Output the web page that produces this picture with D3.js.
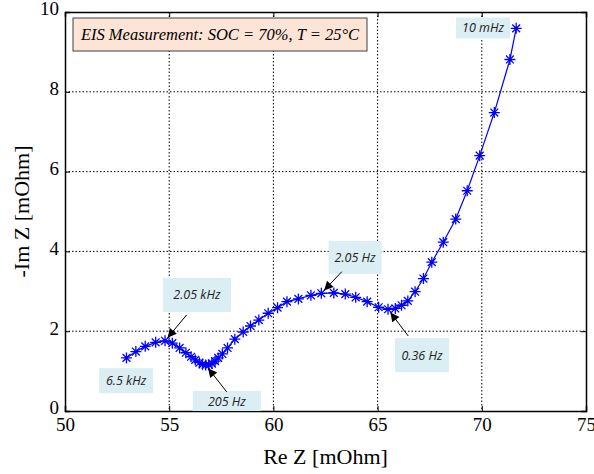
<!DOCTYPE html>
<html><head><meta charset="utf-8">
<script src="https://cdn.jsdelivr.net/npm/d3@7"></script>
<style>body{margin:0;background:#fff}svg{display:block}</style>
</head><body>
<svg id="c" width="594" height="474"></svg>
<script>
const reZ = [52.95,53.4,53.85,54.35,54.8,55.15,55.5,55.8,56.05,56.25,56.45,56.6,56.75,56.9,57.05,57.2,57.35,57.55,57.8,58.15,58.55,58.9,59.3,59.75,60.2,60.65,61.2,61.8,62.3,62.9,63.45,63.95,64.5,65.05,65.5,65.85,66.15,66.45,66.8,67.2,67.6,68.15,68.75,69.3,69.9,70.6,71.35,71.65];
const negImZ = [1.33,1.49,1.62,1.72,1.76,1.70,1.58,1.46,1.36,1.28,1.21,1.17,1.15,1.16,1.19,1.25,1.33,1.43,1.58,1.80,1.98,2.13,2.28,2.45,2.59,2.74,2.81,2.90,2.95,2.96,2.93,2.85,2.74,2.60,2.55,2.57,2.65,2.76,2.99,3.32,3.73,4.23,4.81,5.52,6.40,7.48,8.81,9.59];
const xTicks = [50,55,60,65,70,75];
const yTicks = [0,2,4,6,8,10];
const annoText = ["10 mHz","2.05 kHz","6.5 kHz","205 Hz","2.05 Hz","0.36 Hz"];
const annoX = [70.06,56.33,52.93,57.77,63.92,67.13];   // label centre (Re Z)
const annoY = [9.60,2.91,0.76,0.25,3.85,1.40];         // label centre (-Im Z)
const annoTipIdx = [null,4,null,12,28,34];             // data point the arrow targets
const annoFromX = [null,55.84,null,57.76,63.28,66.47];
const annoFromY = [null,2.41,null,0.48,3.49,1.88];
const legendText = "EIS Measurement: SOC = 70%, T = 25°C";

const svg = d3.select("#c");
const L=65,R=586,T=12,B=411;
const x = d3.scaleLinear().domain([50,75]).range([L,R]);
const y = d3.scaleLinear().domain([0,10]).range([B,T]);

// label box sizes (px)
const boxW = [54,68,54,68,53,54];
const boxH = [21,34,25,20,33,34];

// grid
const g = svg.append("g");
g.selectAll(".gx").data(xTicks.slice(1,-1)).join("line")
  .attr("x1",d=>x(d)).attr("x2",d=>x(d)).attr("y1",T).attr("y2",B)
  .attr("stroke","#000").attr("stroke-width",1).attr("stroke-dasharray","1.5,2");
g.selectAll(".gy").data(yTicks.slice(1,-1)).join("line")
  .attr("y1",d=>y(d)).attr("y2",d=>y(d)).attr("x1",L).attr("x2",R)
  .attr("stroke","#000").attr("stroke-width",1).attr("stroke-dasharray","1.5,2");

// axes
const ax = svg.append("g").attr("transform",`translate(0,${B})`)
  .call(d3.axisBottom(x).tickValues(xTicks).tickSize(-5).tickPadding(10).tickFormat(d3.format("d")));
const ay = svg.append("g").attr("transform",`translate(${L},0)`)
  .call(d3.axisLeft(y).tickValues(yTicks).tickSize(-5).tickPadding(6).tickFormat(d3.format("d")));
svg.append("g").attr("transform",`translate(0,${T})`).call(d3.axisTop(x).tickValues(xTicks).tickSize(-5).tickFormat(""));
svg.append("g").attr("transform",`translate(${R},0)`).call(d3.axisRight(y).tickValues(yTicks).tickSize(-5).tickFormat(""));
svg.selectAll(".domain").attr("stroke","#000").attr("stroke-width",1.5);
svg.selectAll(".tick line").attr("stroke","#000");
svg.selectAll(".tick text").attr("font-family","'Liberation Serif','Times New Roman',serif").attr("font-size",19).attr("fill","#000");
ax.selectAll(".tick text").attr("dy","0.5em");
ay.selectAll(".tick text").attr("dy","0.15em");

svg.append("text").attr("x",(L+R)/2).attr("y",464).attr("text-anchor","middle")
  .attr("font-family","'Liberation Serif','Times New Roman',serif").attr("font-size",22).text("Re Z [mOhm]");
svg.append("text").attr("transform",`translate(29,${(T+B)/2}) rotate(-90)`).attr("text-anchor","middle")
  .attr("font-family","'Liberation Serif','Times New Roman',serif").attr("font-size",22).text("-Im Z [mOhm]");

// line
const pts = reZ.map((v,i)=>[v,negImZ[i]]);
svg.append("path").datum(pts).attr("fill","none").attr("stroke","#0000ff").attr("stroke-width",1.2)
  .attr("d",d3.line().x(d=>x(d[0])).y(d=>y(d[1])));
// star markers
const s=5.5, s2=3.9;
svg.append("g").selectAll("path").data(pts).join("path")
  .attr("transform",d=>`translate(${x(d[0])},${y(d[1])})`)
  .attr("d",`M${-s},0H${s}M0,${-s}V${s}M${-s2},${-s2}L${s2},${s2}M${-s2},${s2}L${s2},${-s2}`)
  .attr("stroke","#0000ff").attr("stroke-width",1.3).attr("fill","none");

// legend box
svg.append("rect").attr("x",73).attr("y",18).attr("width",294).attr("height",33)
  .attr("fill","#fce4d6").attr("stroke","#404040").attr("stroke-width",1);
svg.append("text").attr("x",220).attr("y",40).attr("text-anchor","middle")
  .attr("font-family","'Liberation Serif','Times New Roman',serif").attr("font-style","italic").attr("font-size",16.5).text(legendText);

// annotations
const defs = svg.append("defs");
defs.append("marker").attr("id","ah").attr("viewBox","0 0 10 10").attr("refX",10).attr("refY",5)
  .attr("markerWidth",12).attr("markerHeight",9).attr("markerUnits","userSpaceOnUse").attr("orient","auto")
  .append("path").attr("d","M0,0L10,5L0,10z").attr("fill","#000");
annoText.forEach((t,i)=>{
  const cx=x(annoX[i]), cy=y(annoY[i]);
  const bw = boxW[i], bh = boxH[i];
  svg.append("rect").attr("x",cx-bw/2).attr("y",cy-bh/2).attr("width",bw).attr("height",bh).attr("fill","#daeef3");
  svg.append("text").attr("x",cx).attr("y",cy+4.5).attr("text-anchor","middle")
    .attr("font-family","'Open Sans','Liberation Sans',sans-serif").attr("font-style","italic")
    .attr("font-size",12.5).attr("fill","#222").text(t);
  if(annoTipIdx[i]!==null){
    const p=pts[annoTipIdx[i]];
    const tx=x(p[0]), ty=y(p[1]);
    const fx=x(annoFromX[i]), fy=y(annoFromY[i]);
    const dx=tx-fx, dy=ty-fy, len=Math.hypot(dx,dy);
    const ex=tx-dx/len*4, ey=ty-dy/len*4;
    svg.append("line").attr("x1",fx).attr("y1",fy).attr("x2",ex).attr("y2",ey)
      .attr("stroke","#000").attr("stroke-width",1).attr("marker-end","url(#ah)");
  }
});
</script>
</body></html>
